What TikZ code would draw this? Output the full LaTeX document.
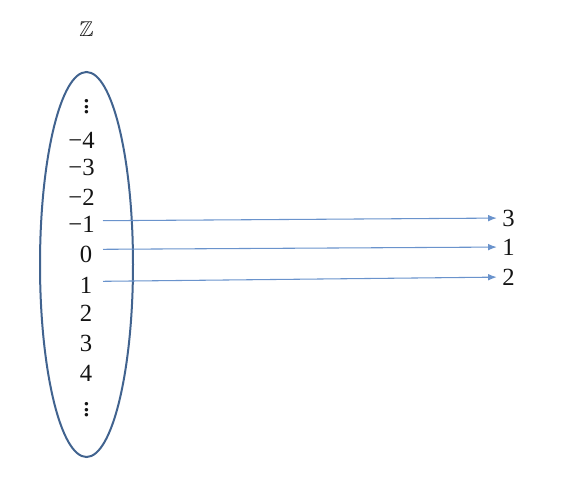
\documentclass[tikz,border=0pt]{standalone}
\usepackage{amssymb}
\usepackage{fontspec}
\setmainfont{Liberation Serif}
\usetikzlibrary{arrows.meta}
\definecolor{ellblue}{HTML}{41638F}
\definecolor{arrblue}{HTML}{6A93CC}
\definecolor{txt}{HTML}{141414}
\tikzset{
  num/.style={inner sep=0pt, text=txt, font=\fontsize{18.5}{20}\selectfont},
  dotsnode/.style={inner sep=0pt, text=txt, font=\fontsize{22}{24}\selectfont},
  setline/.style={draw=ellblue, line width=1.5pt},
  maparrow/.style={draw=arrblue, line width=0.8pt, shorten >=4pt, -{Latex[length=6.5pt,width=5pt]}}
}
\begin{document}
\begin{tikzpicture}[x=0.75pt,y=-0.75pt]
\useasboundingbox (0,0) rectangle (564,482);
\node[num, font=\fontsize{16}{18}\selectfont] (Z) at (86.5,29.5) {$\mathbb{Z}$};
\draw[setline] (86.5,264.5) ellipse [x radius=46.5, y radius=192.5];
\node[dotsnode] (dtop) at (86.5,103) {$\vdots$};
\node[num, anchor=east] (m4) at (95,140) {−4};
\node[num, anchor=east] (m3) at (95,167.5) {−3};
\node[num, anchor=east] (m2) at (95,197) {−2};
\node[num, anchor=east] (m1) at (95,224.5) {−1};
\node[num] (p0) at (86,254) {0};
\node[num] (p1) at (86,285.5) {1};
\node[num] (p2) at (86,313.5) {2};
\node[num] (p3) at (86,343.5) {3};
\node[num] (p4) at (86,373.5) {4};
\node[dotsnode] (dbot) at (86.5,406) {$\vdots$};
\node[num] (r3) at (508.5,218) {3};
\node[num] (r1) at (508.5,247) {1};
\node[num] (r2) at (508.5,277) {2};
\coordinate (s1) at (103,220.7);
\coordinate (s0) at (103,249.3);
\coordinate (sp) at (103,281.3);
\draw[maparrow] (s1) -- (r3);
\draw[maparrow] (s0) -- (r1);
\draw[maparrow] (sp) -- (r2);
\end{tikzpicture}
\end{document}
